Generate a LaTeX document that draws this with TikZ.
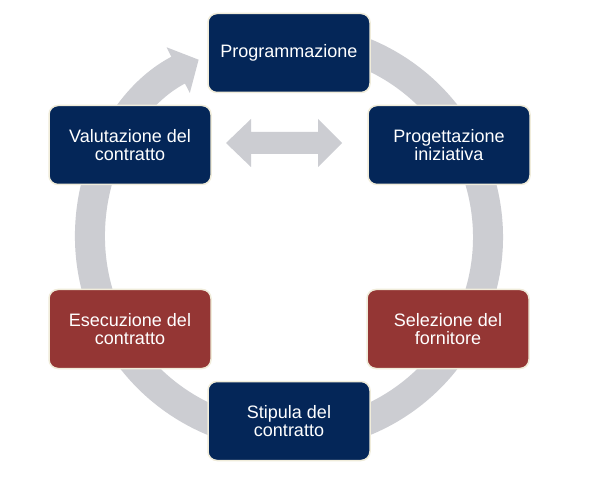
\documentclass[tikz,border=0pt]{standalone}
\usepackage{fontspec}
\setmainfont{Liberation Sans}
\usetikzlibrary{arrows.meta}
\definecolor{navy}{RGB}{4,38,88}
\definecolor{brick}{RGB}{148,54,52}
\definecolor{ringgray}{RGB}{204,205,210}
\definecolor{rim}{RGB}{240,236,218}
\begin{document}
\begin{tikzpicture}[x=1pt,y=1pt,
  box/.style={draw=rim, line width=1.5pt, rounded corners=9pt, minimum width=162pt, minimum height=79pt,
    text=white, align=center, inner sep=2pt, font=\fontsize{18}{18}\selectfont},
  bluebox/.style={box, fill=navy},
  redbox/.style={box, fill=brick}]
\useasboundingbox (0,0) rectangle (611,480);
\fill[white] (0,0) rectangle (611,480);
% ring with arrowhead
\coordinate (c) at (289,243);
\draw[ringgray, line width=30pt, -{Triangle[length=23pt,width=50pt]}]
  ([shift={(100:199)}]c) arc[start angle=100, end angle=-243, radius=199];
% central double arrow
\fill[ringgray] (226,337) -- (251,361) -- (251,348) -- (318,348) -- (318,361) -- (342,337)
  -- (318,313) -- (318,326) -- (251,326) -- (251,313) -- cycle;
% boxes
\node[bluebox] (prog) at (289,427) {Programmazione};
\node[bluebox] (val) at (130,335) {Valutazione del\\contratto};
\node[bluebox] (proj) at (449,335) {Progettazione\\iniziativa};
\node[redbox] (esec) at (130,151) {Esecuzione del\\contratto};
\node[redbox] (sel) at (448,151) {Selezione del\\fornitore};
\node[bluebox] (stip) at (289,59) {Stipula del\\contratto};
\end{tikzpicture}
\end{document}
